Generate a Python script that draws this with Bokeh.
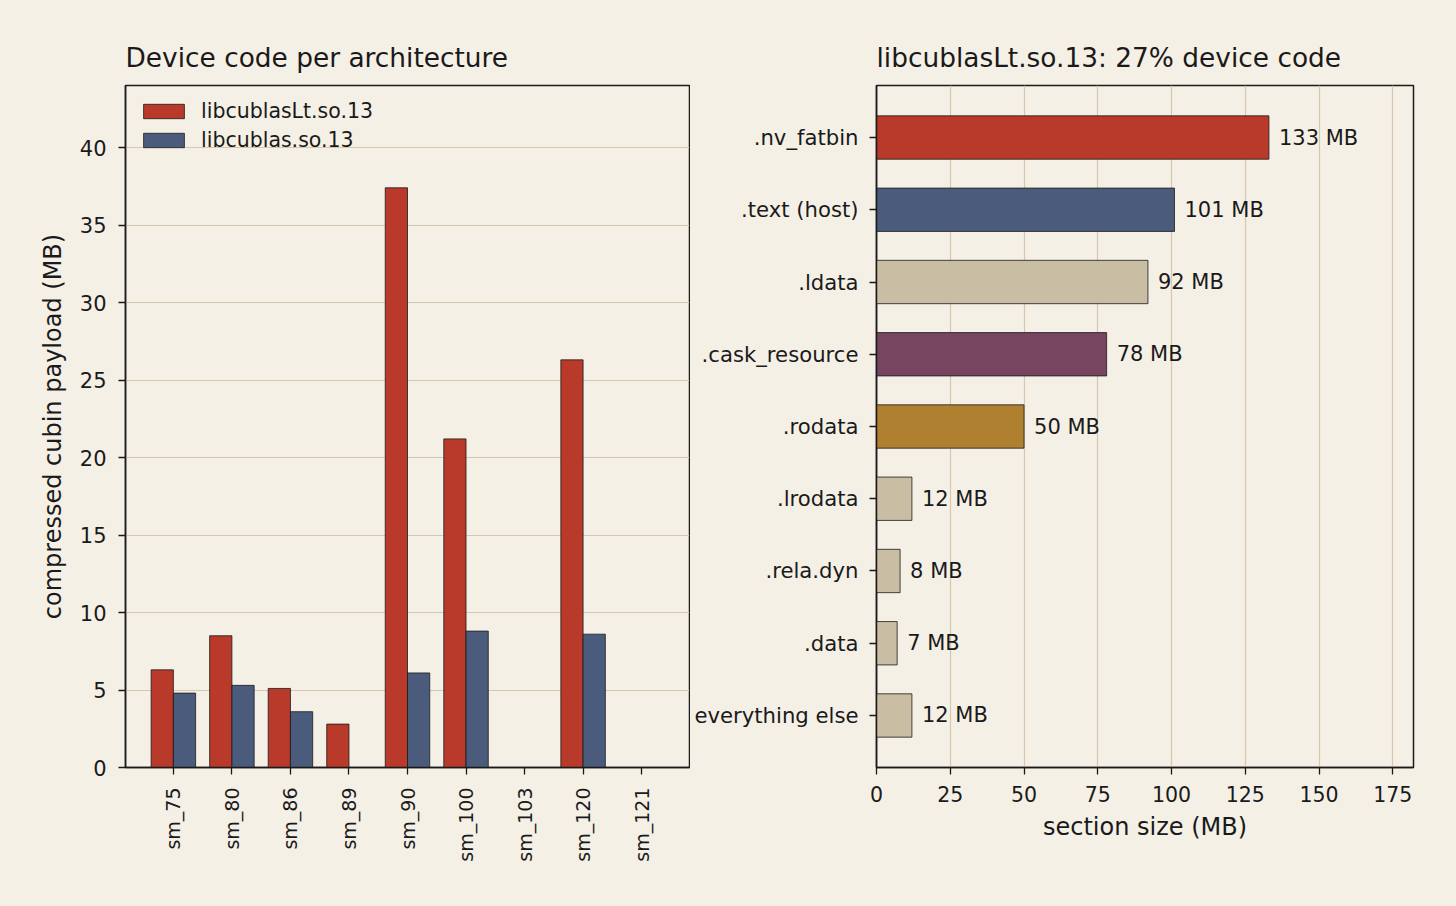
import math
from bokeh.plotting import figure
from bokeh.layouts import row
from bokeh.models import (ColumnDataSource, FactorRange, Range1d, Legend, LegendItem,
                          SingleIntervalTicker)
from bokeh.transform import dodge
from bokeh.core.properties import value
from bokeh.embed import file_html
from bokeh.resources import INLINE

# ---- data ----
archs = ["sm_75", "sm_80", "sm_86", "sm_89", "sm_90", "sm_100", "sm_103", "sm_120", "sm_121"]
lt_mb = [6.3, 8.5, 5.1, 2.8, 37.4, 21.2, 0.0, 26.3, 0.0]
cublas_mb = [4.8, 5.3, 3.6, 0.0, 6.1, 8.8, 0.0, 8.6, 0.0]
series_names = ["libcublasLt.so.13", "libcublas.so.13"]

sections = [".nv_fatbin", ".text (host)", ".ldata", ".cask_resource", ".rodata",
            ".lrodata", ".rela.dyn", ".data", "everything else"]
section_mb = [133, 101, 92, 78, 50, 12, 8, 7, 12]

# ---- style ----
BG = "#f5f0e6"
GRID = "#d6c7ae"
INK = "#1a1a1a"
RED = "#b9392a"
BLUE = "#4b5b7b"
TAN = "#c9bda4"
PURPLE = "#77455f"
GOLD = "#ae8030"
FONT = "DejaVu Sans"
section_colors = [RED, BLUE, TAN, PURPLE, GOLD, TAN, TAN, TAN, TAN]


def style(p):
    p.background_fill_color = BG
    p.border_fill_color = BG
    p.outline_line_color = INK
    p.outline_line_width = 1.5
    p.title.text_font = FONT
    p.title.text_font_size = "26.4px"
    p.title.text_font_style = "normal"
    p.title.text_color = INK
    p.title.align = "left"
    p.title.standoff = 25
    for ax in p.axis:
        ax.axis_line_color = INK
        ax.axis_line_width = 1.5
        ax.major_tick_line_color = INK
        ax.major_tick_line_width = 1.3
        ax.major_tick_out = 7
        ax.major_tick_in = 0
        ax.minor_tick_line_color = None
        ax.major_label_text_font = FONT
        ax.major_label_text_color = INK
        ax.major_label_standoff = 11
        ax.axis_label_text_font = FONT
        ax.axis_label_text_font_size = "24px"
        ax.axis_label_text_font_style = "normal"
        ax.axis_label_text_color = INK
        ax.axis_label_standoff = 10


# ---- left chart ----
src1 = ColumnDataSource(dict(arch=archs, lt=lt_mb, cb=cublas_mb))
p1 = figure(x_range=FactorRange(*archs, range_padding=0.318, range_padding_units="absolute"),
            y_range=Range1d(0, 44),
            title="Device code per architecture",
            frame_width=564, frame_height=682,
            min_border_left=125, min_border_right=1, min_border_top=85, min_border_bottom=139,
            output_backend="svg", toolbar_location=None)
style(p1)
r_lt = p1.vbar(x=dodge("arch", -0.19, range=p1.x_range), top="lt", width=0.38, source=src1,
               fill_color=RED, line_color=INK, line_width=0.8)
r_cb = p1.vbar(x=dodge("arch", 0.19, range=p1.x_range), top="cb", width=0.38, source=src1,
               fill_color=BLUE, line_color=INK, line_width=0.8)
p1.yaxis.ticker = SingleIntervalTicker(interval=5)
p1.yaxis.axis_label = "compressed cubin payload (MB)"
p1.yaxis.major_label_text_font_size = "21px"
p1.yaxis.major_label_standoff = 12
p1.xaxis.major_label_text_font_size = "19px"
p1.xaxis.major_label_orientation = math.pi / 2
p1.xaxis.major_label_standoff = 13
p1.xgrid.grid_line_color = None
p1.ygrid.grid_line_color = GRID
p1.ygrid.grid_line_width = 1.2
p1.ygrid.ticker = SingleIntervalTicker(interval=5)

legend = Legend(items=[LegendItem(label=series_names[0], renderers=[r_lt]),
                       LegendItem(label=series_names[1], renderers=[r_cb])],
                location=(8, 609), orientation="vertical",
                background_fill_alpha=0, border_line_alpha=0,
                padding=5, margin=0, spacing=3,
                glyph_width=51, glyph_height=18, label_height=26,
                label_standoff=12, label_text_font=FONT, label_text_font_size="20.5px",
                label_text_color=INK)
p1.add_layout(legend)

# ---- right chart ----
src2 = ColumnDataSource(dict(sec=sections, mb=section_mb, color=section_colors,
                             label=[f"{v} MB" for v in section_mb]))
p2 = figure(y_range=FactorRange(*reversed(sections), range_padding=0.22, range_padding_units="absolute"),
            x_range=Range1d(0, 182),
            title="libcublasLt.so.13: 27% device code",
            frame_width=537, frame_height=682,
            min_border_left=186, min_border_right=43, min_border_top=85, min_border_bottom=139,
            output_backend="svg", toolbar_location=None)
style(p2)
p2.hbar(y="sec", right="mb", left=0, height=0.6, source=src2,
        fill_color="color", line_color=INK, line_width=0.8)
p2.text(x="mb", y="sec", text="label", source=src2, x_offset=10,
        text_baseline="middle", text_align="left", text_font=value(FONT),
        text_font_size="21px", text_color=INK)
p2.xaxis.ticker = SingleIntervalTicker(interval=25)
p2.xaxis.axis_label = "section size (MB)"
p2.xaxis.axis_label_standoff = 8
p2.xaxis.major_label_text_font_size = "20.5px"
p2.yaxis.major_label_text_font_size = "21.2px"
p2.ygrid.grid_line_color = None
p2.xgrid.grid_line_color = GRID
p2.xgrid.grid_line_width = 1.2
p2.xgrid.ticker = SingleIntervalTicker(interval=25)

layout = row(p1, p2, styles={"background-color": BG})
open("out.html", "w").write(file_html(layout, INLINE))
